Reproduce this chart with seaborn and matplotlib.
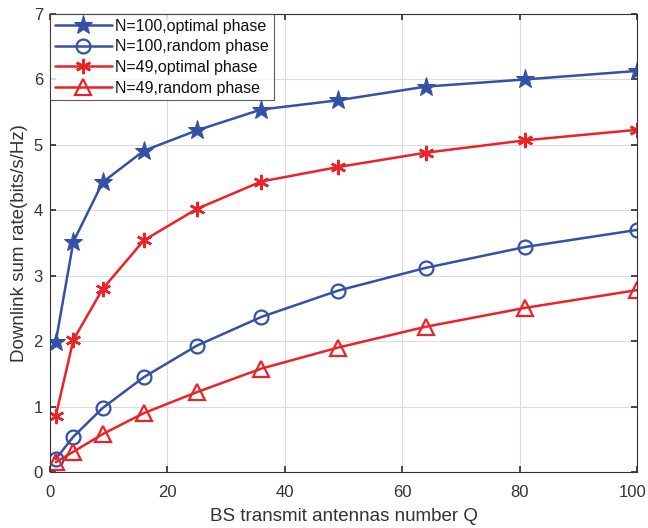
import matplotlib
matplotlib.use("Agg")
import matplotlib.pyplot as plt
import matplotlib.transforms as mtransforms
import seaborn as sns
import pandas as pd

Q = [1, 4, 9, 16, 25, 36, 49, 64, 81, 100]
n100_opt = [1.99, 3.52, 4.43, 4.91, 5.22, 5.54, 5.68, 5.89, 6.00, 6.13]
n100_rand = [0.20, 0.54, 0.98, 1.45, 1.93, 2.37, 2.77, 3.12, 3.44, 3.70]
n49_opt = [0.86, 2.02, 2.80, 3.54, 4.02, 4.44, 4.66, 4.88, 5.07, 5.23]
n49_rand = [0.15, 0.31, 0.58, 0.90, 1.22, 1.58, 1.90, 2.22, 2.51, 2.78]
labels = ["N=100,optimal phase", "N=100,random phase", "N=49,optimal phase", "N=49,random phase"]

sns.set_theme(style="white")
plt.rcParams['font.family'] = ['Liberation Sans', 'DejaVu Sans']

fig = plt.figure(figsize=(6.48, 5.28), dpi=100)
ax = fig.add_axes([0.077, 0.106, 0.906, 0.8675])

blue = "#3451A5"
red = "#EC2227"
series = [
    (n100_opt, blue, "*", dict(markersize=14, markerfacecolor=blue)),
    (n100_rand, blue, "o", dict(markersize=10, markerfacecolor="none", markeredgewidth=1.6)),
    (n49_opt, red, (6, 2, 0), dict(markersize=11, markeredgewidth=1.8)),
    (n49_rand, red, "^", dict(markersize=11, markerfacecolor="none", markeredgewidth=1.6)),
]
for lab, (v, c, m, kw) in zip(labels, series):
    df = pd.DataFrame({"Q": Q, "rate": v})
    sns.lineplot(data=df, x="Q", y="rate", ax=ax, color=c, marker=m, linewidth=1.8,
                 markeredgecolor=c, label=lab, **kw)

ax.set_xlim(0, 100)
ax.set_ylim(0, 7)
ax.set_xticks([0, 20, 40, 60, 80, 100])
ax.set_yticks(range(0, 8))
ax.grid(True, color="#dcdcdc", linewidth=0.8)
for s in ax.spines.values():
    s.set_color("#333333")
    s.set_linewidth(0.8)
ax.tick_params(direction="in", length=4, color="#333333", labelsize=12, labelcolor="#333333",
               top=True, right=True, bottom=True, left=True)
ax.tick_params(axis="x", pad=9)
ax.tick_params(axis="y", pad=5)
ax.set_xlabel("BS transmit antennas number Q", fontsize=13.5, color="#333333", labelpad=6)
ax.set_ylabel("Downlink sum rate(bits/s/Hz)", fontsize=13.5, color="#333333", labelpad=4)
fig.canvas.draw()
last = ax.get_xticklabels()[-1]
last.set_transform(last.get_transform() + mtransforms.ScaledTranslation(-4/100, 0, fig.dpi_scale_trans))
leg = ax.legend(loc="upper left", fontsize=11.5, frameon=True, fancybox=False, edgecolor="#333333",
                borderaxespad=0.0, handlelength=3.6, labelspacing=0.35, borderpad=0.3,
                handletextpad=0.2)
leg.get_frame().set_linewidth(0.8)
for t in leg.get_texts():
    t.set_color("#111111")
fig.savefig("out.png", dpi=100)
